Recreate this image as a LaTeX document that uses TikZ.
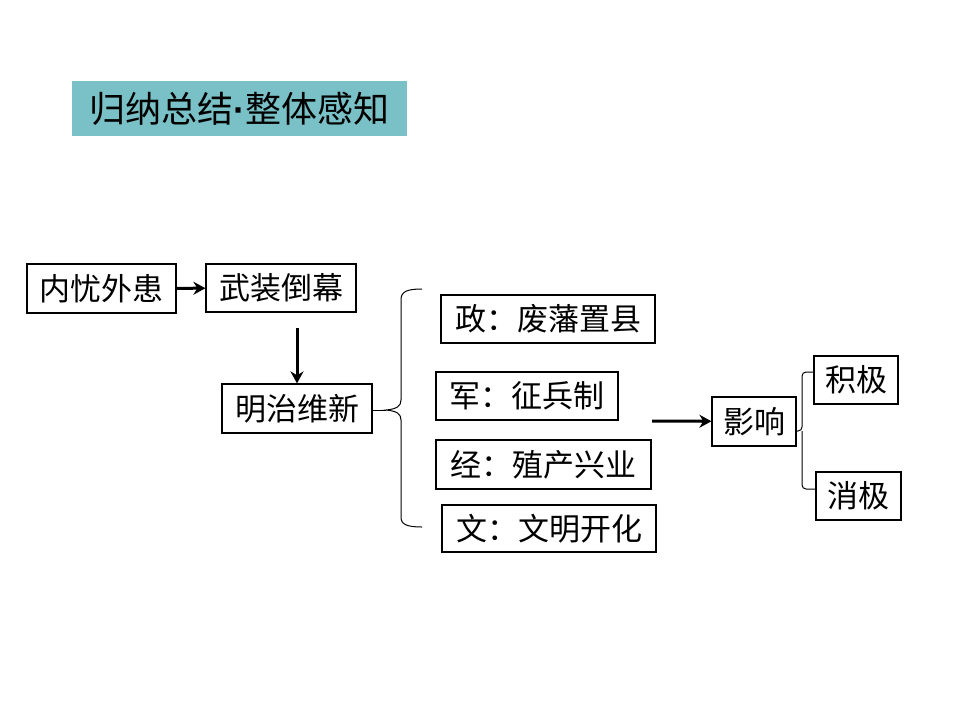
\documentclass[tikz,border=0pt]{standalone}
\usepackage{fontspec}
\setmainfont{Noto Sans CJK SC}
\newfontfamily\dotfont{Liberation Sans}
\usetikzlibrary{arrows.meta}
\definecolor{titleteal}{RGB}{121,193,198}
\begin{document}
\begin{tikzpicture}[x=1pt,y=-1pt,
    box/.style={draw, line width=1.2pt, inner sep=0pt, font=\fontsize{31}{36}\selectfont},
    arr/.style={line width=3pt, -{Stealth[length=12pt,width=13pt]}},
    brace/.style={line width=1pt}]
    \useasboundingbox (0,0) rectangle (960,720);
    % title
    \node[fill=titleteal, minimum width=335pt, minimum height=55pt, inner sep=0pt,
          font=\fontsize{36}{40}\selectfont] (title) at (239.5,108.5) {归纳总结{\dotfont\bfseries ·}整体感知};
    % left chain
    \node[box, minimum width=149pt, minimum height=49pt] (cause) at (101.5,288.5) {内忧外患};
    \node[box, minimum width=150pt, minimum height=48pt] (war) at (281,288) {武装倒幕};
    \node[box, minimum width=150pt, minimum height=49pt] (meiji) at (297,408.5) {明治维新};
    \draw[arr] (cause) -- (war);
    \draw[arr] (297,328) -- (meiji);
    % reforms
    \node[box, minimum width=214pt, minimum height=48pt] (zheng) at (548,319) {政：废藩置县};
    \node[box, minimum width=182pt, minimum height=48pt] (jun) at (527,396) {军：征兵制};
    \node[box, minimum width=215pt, minimum height=49pt] (jing) at (543.5,464.5) {经：殖产兴业};
    \node[box, minimum width=214pt, minimum height=47pt] (wen) at (549,528.5) {文：文明开化};
    % brace
    \coordinate (tip) at (386,410);
    \draw[brace] (422,289) .. controls (406,289) and (401,292) .. (401,300) -- (401,400)
        .. controls (401,406) and (397,409) .. (tip)
        .. controls (397,411) and (401,414) .. (401,420) -- (401,517)
        .. controls (401,524) and (406,527) .. (422,527);
    \draw[brace] (meiji.east |- tip) -- (tip);
    % effects
    \node[box, minimum width=84pt, minimum height=49pt] (effect) at (754,421.5) {影响};
    \node[box, minimum width=84pt, minimum height=48pt] (pos) at (856,380) {积极};
    \node[box, minimum width=85pt, minimum height=48pt] (neg) at (858.5,496) {消极};
    \draw[arr] (652,421) -- (effect);
    \draw[brace, rounded corners=4pt] (pos.west |- 0,372) -- (802,372) -- (802,431) -- (effect.east |- 0,431);
    \draw[brace, rounded corners=4pt] (neg.west |- 0,489) -- (802,489) -- (802,431);
\end{tikzpicture}
\end{document}
